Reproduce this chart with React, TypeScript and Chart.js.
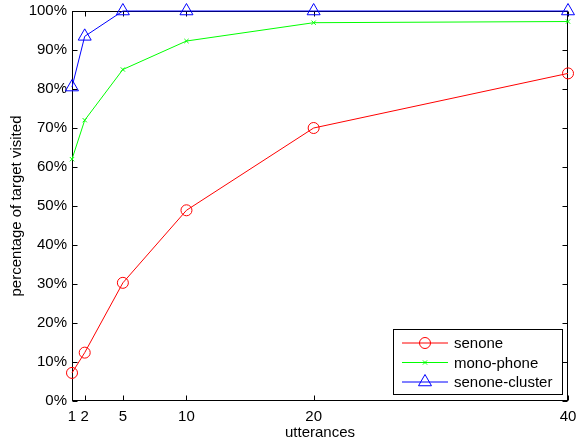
import React, { useEffect, useRef } from "react";
import { Chart, registerables } from "chart.js";

Chart.register(...registerables);

const xValues = [1, 2, 5, 10, 20, 40];
const xTicks = [1, 2, 5, 10, 20, 40];
const senone = [7.2, 12.4, 30.3, 48.9, 70.0, 84.0];
const monoPhone = [62.0, 72.0, 85.0, 92.3, 97.0, 97.3];
const senoneCluster = [80.5, 93.5, 100, 100, 100, 100];
const seriesNames = ["senone", "mono-phone", "senone-cluster"];
const seriesColors = ["#ff0000", "#00ff00", "#0000ff"];

const FONT = "'Liberation Sans', Arial, Helvetica, sans-serif";
const FS = 15;

function drawMarker(ctx: CanvasRenderingContext2D, style: string, r: number, x: number, y: number, color: string) {
  ctx.save();
  ctx.strokeStyle = color;
  ctx.lineWidth = 1;
  ctx.beginPath();
  if (style === "circle") {
    ctx.arc(x, y, r, 0, Math.PI * 2);
  } else if (style === "crossRot") {
    ctx.moveTo(x - r * 0.7, y - r * 0.7);
    ctx.lineTo(x + r * 0.7, y + r * 0.7);
    ctx.moveTo(x + r * 0.7, y - r * 0.7);
    ctx.lineTo(x - r * 0.7, y + r * 0.7);
  } else if (style === "triangle") {
    let rad = 0;
    const t = (2 * Math.PI) / 3;
    ctx.moveTo(x + Math.sin(rad) * r, y - Math.cos(rad) * r);
    rad += t;
    ctx.lineTo(x + Math.sin(rad) * r, y - Math.cos(rad) * r);
    rad += t;
    ctx.lineTo(x + Math.sin(rad) * r, y - Math.cos(rad) * r);
    ctx.closePath();
  }
  ctx.stroke();
  ctx.restore();
}

const framePlugin = {
  id: "frame",
  beforeDatasetsDraw(chart: any) {
    const { ctx, chartArea: a, scales } = chart;
    ctx.save();
    ctx.strokeStyle = "#000";
    ctx.lineWidth = 1;
    const L = Math.round(a.left) + 0.5;
    const R = Math.round(a.right) - 0.5;
    const T = Math.round(a.top) + 0.5;
    const B = Math.round(a.bottom) - 0.5;
    ctx.strokeRect(L, T, R - L, B - T);
    const tl = 5;
    ctx.beginPath();
    scales.x.ticks.forEach((t: any) => {
      const px = Math.round(scales.x.getPixelForValue(t.value)) + 0.5;
      ctx.moveTo(px, B);
      ctx.lineTo(px, B - tl);
      ctx.moveTo(px, T);
      ctx.lineTo(px, T + tl);
    });
    scales.y.ticks.forEach((t: any) => {
      const py = Math.round(scales.y.getPixelForValue(t.value)) + 0.5;
      ctx.moveTo(L, py);
      ctx.lineTo(L + tl, py);
      ctx.moveTo(R, py);
      ctx.lineTo(R - tl, py);
    });
    ctx.stroke();
    ctx.restore();
  },
};

const legendPlugin = {
  id: "customLegend",
  afterDraw(chart: any) {
    const { ctx } = chart;
    const x0 = 393.5, y0 = 329.5, w = 169, h = 65;
    ctx.save();
    ctx.fillStyle = "#fff";
    ctx.fillRect(x0, y0, w, h);
    ctx.strokeStyle = "#000";
    ctx.lineWidth = 1;
    ctx.strokeRect(x0, y0, w, h);
    const rows = [343, 362.5, 382];
    chart.data.datasets.forEach((ds: any, i: number) => {
      const y = rows[i];
      ctx.strokeStyle = ds.borderColor;
      ctx.lineWidth = 1;
      ctx.beginPath();
      ctx.moveTo(402, y);
      ctx.lineTo(448, y);
      ctx.stroke();
      drawMarker(ctx, ds.pointStyle, ds.pointRadius, 425, y, ds.borderColor);
      ctx.fillStyle = "#000";
      ctx.font = `${FS}px ${FONT}`;
      ctx.textBaseline = "middle";
      ctx.textAlign = "left";
      ctx.fillText(ds.label, 454, y + 1);
    });
    ctx.restore();
  },
};

export default function App() {
  const ref = useRef<HTMLCanvasElement | null>(null);
  useEffect(() => {
    if (!ref.current) return;
    const styles = ["circle", "crossRot", "triangle"];
    const radii = [5.5, 3, 7.5];
    const data = [senone, monoPhone, senoneCluster];
    const chart = new Chart(ref.current, {
      type: "line",
      data: {
        datasets: data.map((vals, i) => ({
          label: seriesNames[i],
          data: xValues.map((x, j) => ({ x, y: vals[j] })),
          borderColor: seriesColors[i],
          backgroundColor: "rgba(0,0,0,0)",
          borderWidth: 1,
          pointStyle: styles[i],
          pointRadius: radii[i],
          pointBorderWidth: 1,
          pointBorderColor: seriesColors[i],
          pointBackgroundColor: "rgba(0,0,0,0)",
          fill: false,
          tension: 0,
          clip: false as any,
        })),
      },
      options: {
        animation: false,
        responsive: false,
        devicePixelRatio: 1,
        layout: { padding: { top: 11, right: 10, left: 0, bottom: 0 } },
        plugins: {
          legend: { display: false },
          tooltip: { enabled: false },
        },
        scales: {
          x: {
            type: "linear",
            min: 1,
            max: 40,
            afterBuildTicks: (s: any) => {
              s.ticks = xTicks.map((v) => ({ value: v }));
            },
            afterFit: (s: any) => {
              s.height = 40;
              s.paddingLeft = 0;
              s.paddingRight = 0;
            },
            grid: { display: false, drawTicks: false },
            border: { display: false },
            ticks: {
              color: "#000",
              font: { family: FONT, size: FS },
              padding: 7,
              maxRotation: 0,
              autoSkip: false,
              callback: (v: any) => String(v),
            },
            title: {
              display: true,
              text: "utterances",
              color: "#000",
              font: { family: FONT, size: FS },
              padding: { top: 0, bottom: -1 },
            },
          },
          y: {
            min: 0,
            max: 100,
            afterFit: (s: any) => {
              s.width = 72;
              s.paddingTop = 0;
              s.paddingBottom = 0;
            },
            grid: { display: false, drawTicks: false },
            border: { display: false },
            ticks: {
              stepSize: 10,
              color: "#000",
              font: { family: FONT, size: FS },
              padding: 5,
              callback: (v: any) => v + "%",
            },
            title: {
              display: true,
              text: "percentage of target visited",
              color: "#000",
              font: { family: FONT, size: FS },
              padding: { top: 8, bottom: 0 },
            },
          },
        },
      },
      plugins: [framePlugin, legendPlugin],
    });
    return () => chart.destroy();
  }, []);
  return (
    <div style={{ position: "fixed", left: 0, top: 0, width: 578, height: 441, background: "#fff" }}>
      <canvas ref={ref} width={578} height={441} style={{ width: 578, height: 441, display: "block" }} />
    </div>
  );
}
